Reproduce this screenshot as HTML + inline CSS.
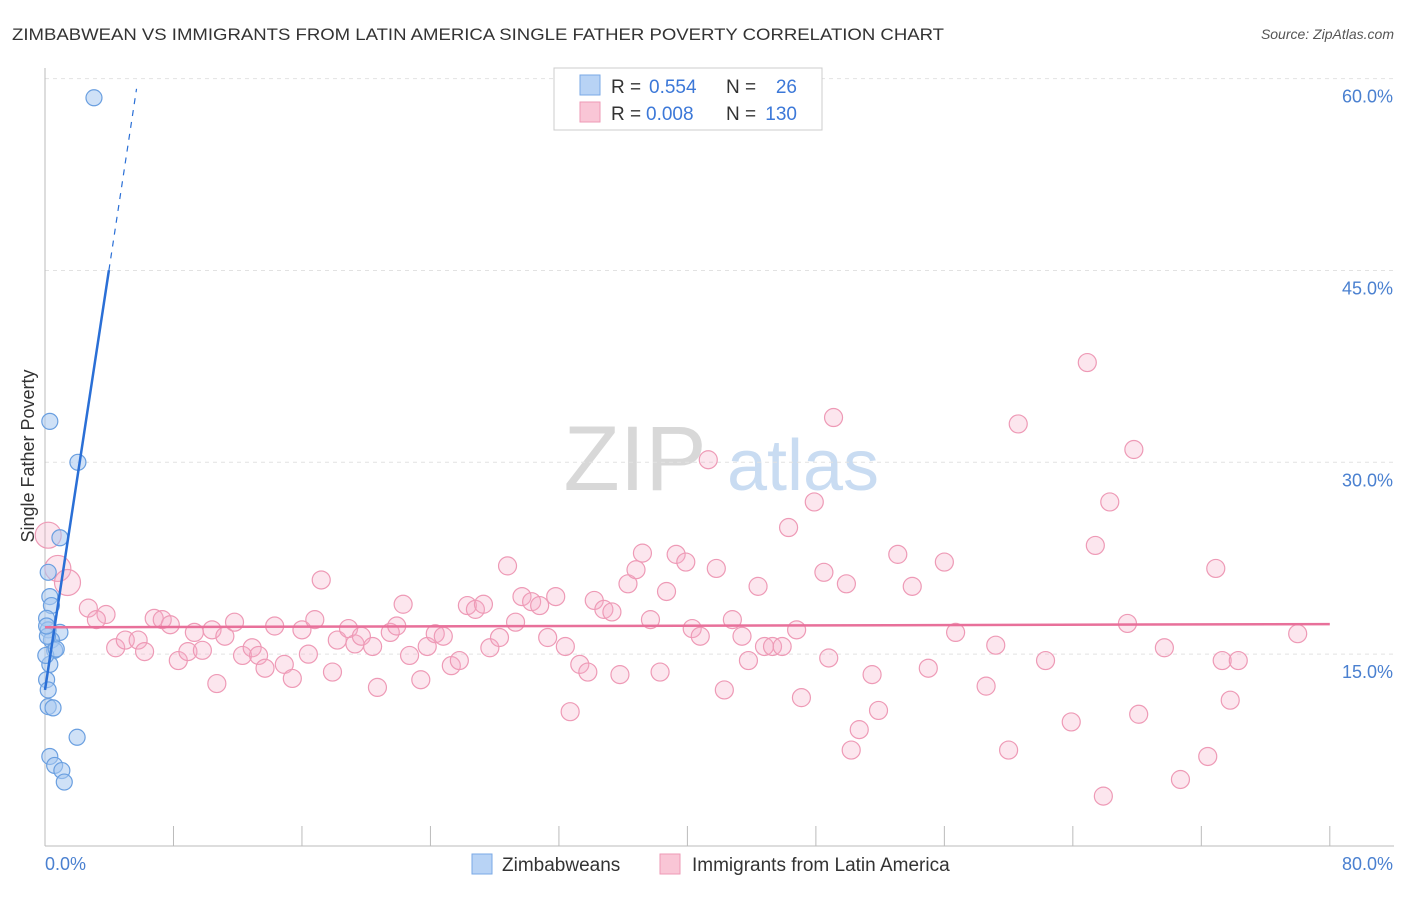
<!DOCTYPE html>
<html><head><meta charset="utf-8"><style>
body{margin:0;background:#fff;font-family:"Liberation Sans",sans-serif}
svg text{font-family:"Liberation Sans",sans-serif}
</style></head><body>
<svg id="chart" width="1406" height="892">
<text x="12" y="40" font-size="17" fill="#333" textLength="932" lengthAdjust="spacingAndGlyphs">ZIMBABWEAN VS IMMIGRANTS FROM LATIN AMERICA SINGLE FATHER POVERTY CORRELATION CHART</text>
<text x="1394" y="39" font-size="14" fill="#555" text-anchor="end" font-style="italic">Source: ZipAtlas.com</text>
<g>
<text x="635" y="490" font-size="92" fill="#d8d8d8" font-family="Liberation Serif" text-anchor="middle">ZIP</text>
<text x="803" y="490" font-size="72" fill="#c9dcf2" text-anchor="middle">atlas</text>
</g>
<g id="grid"></g><g id="axes"></g><g id="pts"></g><g id="lines"></g>
<g>
<rect x="554" y="68" width="268" height="62" fill="#fff" stroke="#ccc"/>
<rect x="580" y="75" width="20" height="20" fill="#b8d3f5" stroke="#7aa8e6"/>
<rect x="580" y="102" width="20" height="20" fill="#f9c6d6" stroke="#ee9ab6"/>
<text x="611" y="93" font-size="19" fill="#333">R =</text>
<text x="649" y="93" font-size="19" fill="#3c78d8">0.554</text>
<text x="726" y="93" font-size="19" fill="#333">N =</text>
<text x="797" y="93" font-size="19" fill="#3c78d8" text-anchor="end">26</text>
<text x="611" y="120" font-size="19" fill="#333">R =</text>
<text x="646" y="120" font-size="19" fill="#3c78d8">0.008</text>
<text x="726" y="120" font-size="19" fill="#333">N =</text>
<text x="797" y="120" font-size="19" fill="#3c78d8" text-anchor="end">130</text>
</g>
<g>
<rect x="472" y="854" width="20" height="20" fill="#b8d3f5" stroke="#7aa8e6"/>
<text x="502" y="871" font-size="19" fill="#333">Zimbabweans</text>
<rect x="660" y="854" width="20" height="20" fill="#f9c6d6" stroke="#ee9ab6"/>
<text x="692" y="871" font-size="19" fill="#333">Immigrants from Latin America</text>
</g>
<text transform="translate(34,456) rotate(-90)" font-size="18" fill="#333" text-anchor="middle">Single Father Poverty</text>
</svg>
<script>
const yTicks=[15,30,45,60];
const yTickLabels=["15.0%","30.0%","45.0%","60.0%"];
const xTickLabels=["0.0%","80.0%"];
const blueX=[3.05,0.3,2.05,0.93,0.2,0.3,0.4,0.1,0.2,0.93,0.4,0.6,0.3,0.1,0.2,0.2,0.5,2.0,0.3,0.6,1.05,1.2,0.05,0.15,0.7,0.1];
const blueY=[58.5,33.2,30.0,24.1,21.4,19.5,18.8,17.8,16.9,16.7,16.1,15.3,14.2,13.0,12.2,10.9,10.8,8.5,7.0,6.3,5.9,5.0,14.9,16.4,15.4,17.2];
const pinkX=[0.2,0.8,1.4,2.7,3.8,3.2,4.4,5.0,5.8,6.2,6.8,7.3,7.8,8.3,8.9,9.3,9.8,10.4,10.7,11.2,11.8,12.3,12.9,13.3,13.7,14.3,14.9,15.4,16.0,16.4,16.8,17.2,17.9,18.2,18.9,19.3,19.7,20.4,20.7,21.5,21.9,22.3,22.7,23.4,23.8,24.3,24.8,25.3,25.8,26.3,26.8,27.3,27.7,28.3,28.8,29.3,29.7,30.3,30.8,31.3,31.8,32.4,32.7,33.3,33.8,34.2,34.8,35.3,35.8,36.3,36.8,37.2,37.7,38.3,38.7,39.3,39.9,40.3,40.8,41.3,41.8,42.3,42.8,43.4,43.8,44.4,44.8,45.3,45.9,46.3,46.8,47.1,47.9,48.5,48.8,49.1,49.9,50.2,50.7,51.5,51.9,53.1,54.0,55.0,56.0,56.7,58.6,59.2,60.0,60.6,62.3,63.9,64.9,65.4,65.9,66.3,67.4,67.8,68.1,69.7,70.7,72.4,72.9,73.3,73.8,74.3,78.0];
const pinkY=[24.3,21.7,20.6,18.6,18.1,17.7,15.5,16.1,16.1,15.2,17.8,17.7,17.3,14.5,15.2,16.7,15.3,16.9,12.7,16.4,17.5,14.9,15.5,14.9,13.9,17.2,14.2,13.1,16.9,15.0,17.7,20.8,13.6,16.1,17.0,15.8,16.4,15.6,12.4,16.7,17.2,18.9,14.9,13.0,15.6,16.6,16.4,14.1,14.5,18.8,18.5,18.9,15.5,16.3,21.9,17.5,19.5,19.1,18.8,16.3,19.5,15.6,10.5,14.2,13.6,19.2,18.5,18.3,13.4,20.5,21.6,22.9,17.7,13.6,19.9,22.8,22.2,17.0,16.4,30.2,21.7,12.2,17.7,16.4,14.5,20.3,15.6,15.6,15.6,24.9,16.9,11.6,26.9,21.4,14.7,33.5,20.5,7.5,9.1,13.4,10.6,22.8,20.3,13.9,22.2,16.7,12.5,15.7,7.5,33.0,14.5,9.7,37.8,23.5,3.9,26.9,17.4,31.0,10.3,15.5,5.2,7.0,21.7,14.5,11.4,14.5,16.6];
const blueFit=[0,12.2,5.7,59.2], blueSolidEnd=3.98;
const pinkFit=[0,17.1,80,17.35];
const NS='http://www.w3.org/2000/svg';
const X=v=>45+v*16.06, Y=v=>846-v*12.79;
function mk(parent,tag,attrs){const e=document.createElementNS(NS,tag);for(const k in attrs)e.setAttribute(k,attrs[k]);document.getElementById(parent).appendChild(e);return e;}
yTicks.forEach((t,i)=>{
 const l=mk('grid','line',{x1:45,x2:1394,y1:Y(t),y2:Y(t),stroke:'#e2e2e2','stroke-dasharray':'4,4'});
 
 const tx=mk('axes','text',{x:1393,y:Y(t)+24,'font-size':18,fill:'#4a80d0','text-anchor':'end'});tx.textContent=yTickLabels[i];
 
});
const ya=mk('axes','line',{x1:45,x2:45,y1:68,y2:846,stroke:'#bbb'});
const xa=mk('axes','line',{x1:45,x2:1394,y1:846,y2:846,stroke:'#bbb'});
for(let i=0;i<=10;i++){const t=mk('axes','line',{x1:X(i*8),x2:X(i*8),y1:826,y2:846,stroke:'#bbb'});}
[[0,'start',45],[80,'end',1393]].forEach((a,i)=>{const t=mk('axes','text',{x:a[2],y:870,'font-size':18,fill:'#4a80d0','text-anchor':a[1]});t.textContent=xTickLabels[i];});
pinkX.forEach((x,i)=>{const c=mk('pts','circle',{cx:X(x),cy:Y(pinkY[i]),r:i<3?13:9,fill:'rgba(246,172,198,0.3)',stroke:'#ee9ab6','stroke-width':1.2});
 });
blueX.forEach((x,i)=>{const c=mk('pts','circle',{cx:X(x),cy:Y(blueY[i]),r:8,fill:'rgba(168,200,240,0.55)',stroke:'#6a9fe0','stroke-width':1.2});
 });
const bY=x=>blueFit[1]+(blueFit[3]-blueFit[1])*(x-blueFit[0])/(blueFit[2]-blueFit[0]);
const b1=mk('lines','line',{x1:X(0),y1:Y(bY(0)),x2:X(blueSolidEnd),y2:Y(bY(blueSolidEnd)),stroke:'#2a6fd6','stroke-width':2.5});

const b2=mk('lines','line',{x1:X(blueSolidEnd),y1:Y(bY(blueSolidEnd)),x2:X(blueFit[2]),y2:Y(blueFit[3]),stroke:'#2a6fd6','stroke-width':1.2,'stroke-dasharray':'6,6'});

const p=mk('lines','line',{x1:X(pinkFit[0]),y1:Y(pinkFit[1]),x2:X(pinkFit[2]),y2:Y(pinkFit[3]),stroke:'#e8709a','stroke-width':2.5});

</script>
</body></html>
